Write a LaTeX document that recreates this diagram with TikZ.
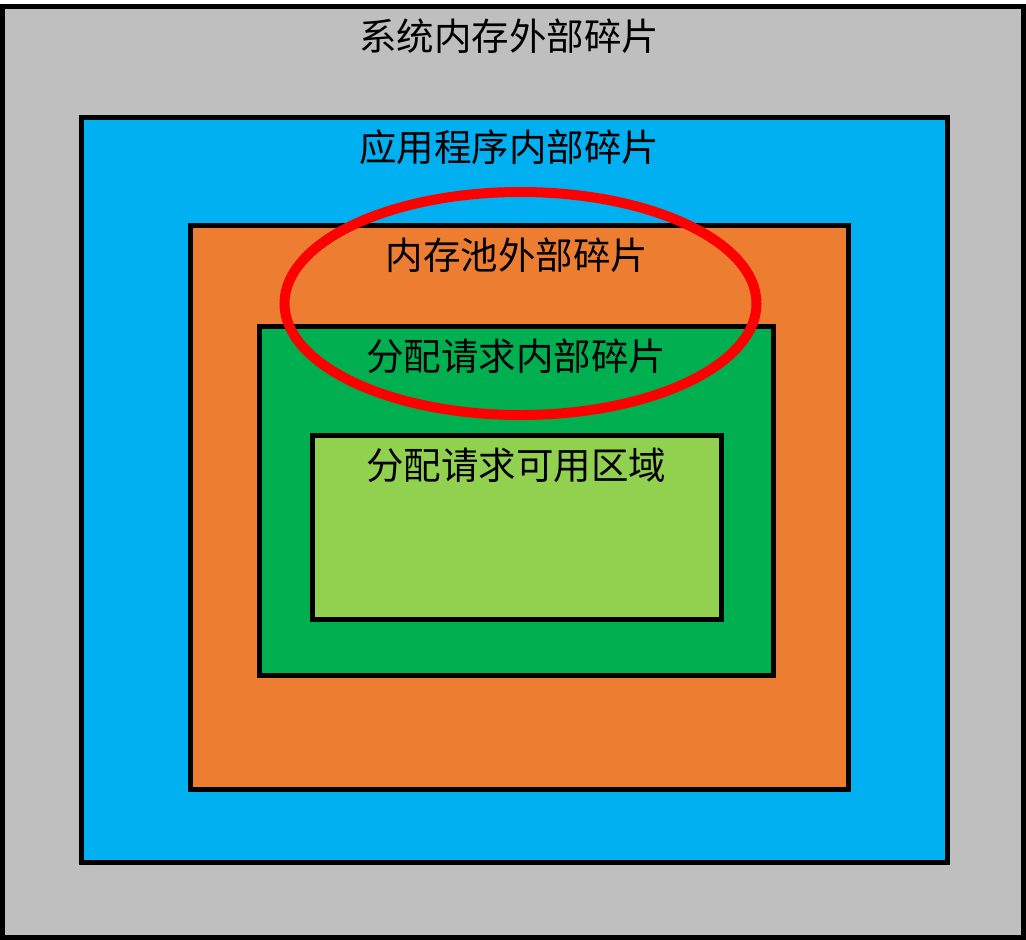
\documentclass[tikz,border=0pt]{standalone}
\usepackage{fontspec}
\usetikzlibrary{shapes.geometric}
\newfontfamily\cjk{Noto Sans CJK SC}
\definecolor{cgray}{RGB}{191,191,191}
\definecolor{cblue}{RGB}{0,176,240}
\definecolor{corange}{RGB}{237,125,49}
\definecolor{cdgreen}{RGB}{0,176,80}
\definecolor{clgreen}{RGB}{146,208,80}
\definecolor{cred}{RGB}{255,0,0}
\begin{document}
\begin{tikzpicture}[x=1pt,y=-1pt,
  box/.style={draw=black,line width=5pt},
  lbl/.style={font=\cjk\fontsize{37.5}{41}\selectfont,inner sep=0pt,text=black},
  ring/.style={ellipse,draw=cred,line width=10pt,inner sep=0pt}]
\useasboundingbox[fill=white] (0,0) rectangle (1026,940);
\path[box,fill=cgray] (2.5,6.5) rectangle (1023.5,937.5);
\path[box,fill=cblue] (81.5,117.5) rectangle (947.5,862.5);
\path[box,fill=corange] (190.5,225.5) rectangle (848.5,789.5);
\path[box,fill=cdgreen] (259.5,326.5) rectangle (773.5,675.5);
\path[box,fill=clgreen] (312.5,435.5) rectangle (721.5,619.5);
\node[ring,minimum width=472pt,minimum height=223pt] (ring) at (520.5,303.5) {};
\node[lbl] (t1) at (509,36) {系统内存外部碎片};
\node[lbl] (t2) at (509,147.5) {应用程序内部碎片};
\node[lbl] (t3) at (517,255) {内存池外部碎片};
\node[lbl] (t4) at (516,356.5) {分配请求内部碎片};
\node[lbl] (t5) at (516,465) {分配请求可用区域};
\end{tikzpicture}
\end{document}
